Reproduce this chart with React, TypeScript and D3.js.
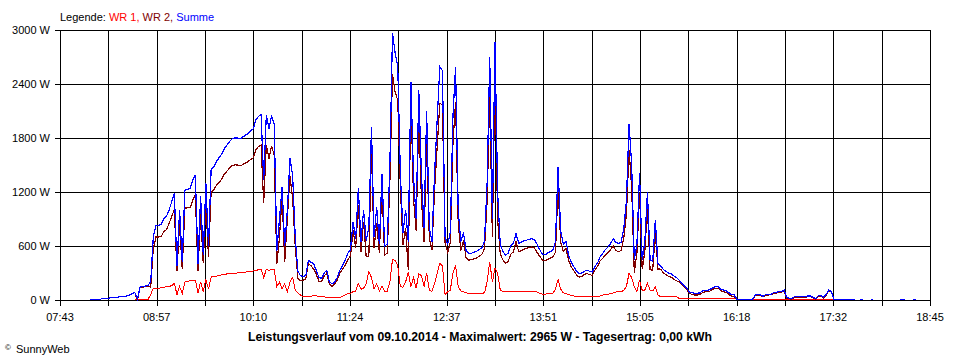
import React from 'react';
import * as d3 from 'd3';

// time axis (minutes since midnight)
const X_START = 463; // 07:43
const X_END = 1125; // 18:45
const X_TICK_LABELS = ['07:43', '08:57', '10:10', '11:24', '12:37', '13:51', '15:05', '16:18', '17:32', '18:45'];
const Y_TICKS = [0, 600, 1200, 1800, 2400, 3000];

// samples every 2 minutes starting 08:06
const START_MIN = 486;
const STEP_MIN = 2;

const SUMME: (number | null)[] = [
  7, 7, 7, 10, 10, 20, 20, 20, 25, 25,
  30, 35, 37, 37, 45, 56, 74, 80, 10, 150,
  150, 155, 165, 200, 700, 830, 830, 840, 900, 930,
  1000, 1090, 1190, 380, 1000, 420, 1220, 1230, 1240, 1330,
  1390, 400, 1150, 500, 1300, 600, 1450, 1480, 1540, 1580,
  1620, 1680, 1720, 1760, 1790, 1800, 1800, 1790, 1810, 1830,
  1850, 1880, 1900, 2000, 2040, 2060, 1330, 2060, 1900, 2050,
  1950, 550, 900, 1260, 600, 1000, 1574, 1389, 700, 320,
  270, 260, 270, 440, 420, 400, 330, 250, 240, 300,
  330, 200, 180, 200, 250, 330, 380, 440, 520, 560,
  870, 680, 1240, 650, 1000, 660, 800, 1926, 700, 1037,
  620, 1400, 600, 620, 1500, 2965, 2750, 2600, 1400, 750,
  1000, 650, 2426, 1370, 900, 2333, 1400, 800, 2100, 800,
  650, 1400, 2000, 2590, 2550, 700, 620, 750, 2037, 2593,
  1000, 650, 750, 550, 520, 520, 530, 540, 560, 580,
  650, 1300, 2700, 900, 2870, 1200, 620, 540, 500, 520,
  600, 630, 740, 630, 640, 660, 665, 675, 680, 670,
  620, 560, 510, 500, 520, 540, 550, 650, 1480, 760,
  620, 650, 500, 420, 370, 320, 290, 300, 320, 330,
  320, 310, 370, 410, 480, 520, 560, 590, 630, 680,
  640, 630, 640, 800, 1100, 1960, 1500, 450, 620, 1407,
  450, 650, 1200, 450, 430, 889, 400, 380, 340, 320,
  300, 290, 270, 250, 222, 190, 160, 130, 90, 80,
  74, 74, 80, 100, 110, 110, 120, 140, 150, 148,
  120, 110, 100, 80, 60, 56, 10, 7, 7, 7,
  7, 7, 7, 55, 60, 55, 40, 63, 63, 65,
  81, 85, 93, 93, 111, 26, 20, 18, 37, 37,
  40, 40, 37, 44, 44, 30, 15, 48, 48, 30,
  60, 111, 95, 7, 7, 7, 7, 7, 7, 7,
  7, 7, null, 7, 7, null, null, 7, 7, null,
  null, null, null, null, null, null, null, null, 7, 7,
  7, null, null, 7, 7,
];

const WR1: (number | null)[] = [
  null, null, null, null, null, null, null, null, null, null,
  null, null, null, null, null, null, null, 7, 7, 7,
  7, 7, 7, 60, 130, 130, 130, 135, 140, 148,
  150, 160, 185, 60, 150, 70, 200, 205, 215, 222,
  222, 80, 200, 90, 230, 120, 255, 260, 265, 275,
  278, 282, 290, 295, 296, 298, 300, 302, 305, 310,
  315, 318, 322, 330, 335, 340, 250, 340, 330, 340,
  340, 150, 200, 120, 180, 90, 200, 250, 110, 80,
  55, 40, 40, 35, 40, 55, 45, 40, 35, 35,
  30, 28, 26, 26, 26, 30, 40, 55, 70, 74,
  93, 100, 185, 120, 130, 180, 315, 250, 120, 180,
  100, 150, 100, 100, 200, 452, 440, 380, 150, 140,
  200, 315, 150, 250, 130, 290, 270, 150, 300, 110,
  93, 180, 300, 407, 380, 60, 90, 110, 300, 389,
  150, 100, 90, 80, 75, 74, 74, 74, 74, 74,
  80, 200, 426, 200, 352, 300, 110, 93, 93, 93,
  90, 95, 93, 90, 92, 95, 93, 90, 92, 93,
  90, 74, 65, 65, 70, 74, 74, 120, 230, 120,
  80, 74, 60, 50, 45, 40, 37, 37, 37, 37,
  37, 37, 37, 37, 45, 55, 60, 65, 70, 80,
  90, 93, 90, 110, 150, 296, 250, 148, 93, 222,
  110, 111, 185, 110, 100, 148, 55, 37, 37, 37,
  37, 37, 37, 37, 18, 18, 18, 18, 18, 18,
  18, 18, 18, 18, 18, 18, 18, 18, 18, 18,
  18, 18, 18, 18, 18, 18, 7, 7, 7, 7,
  7, 7, 7, 7, 7, 7, 7, 7, 7, 7,
  7, 7, 7, 7, 7, 7, 7, 7, 7, 7,
  7, 7, 7, 7, 7, 7, 7, 7, 7, 7,
  7, 7, 7, 7,
];

const WR2: (number | null)[] = [
  null, null, null, null, null, null, null, null, null, null,
  null, null, null, null, null, null, null, 70, 3, 143,
  143, 148, 158, 140, 570, 700, 700, 705, 760, 782,
  850, 930, 1005, 320, 850, 350, 1020, 1025, 1025, 1108,
  1168, 320, 950, 410, 1070, 480, 1195, 1220, 1275, 1305,
  1342, 1398, 1430, 1465, 1494, 1502, 1500, 1488, 1505, 1520,
  1535, 1562, 1578, 1670, 1705, 1720, 1080, 1720, 1570, 1710,
  1610, 400, 700, 1140, 420, 910, 1374, 1139, 590, 240,
  215, 220, 230, 405, 380, 345, 285, 210, 205, 265,
  300, 172, 154, 174, 224, 300, 340, 385, 450, 486,
  777, 580, 1055, 530, 870, 480, 485, 1676, 580, 857,
  520, 1250, 500, 520, 1300, 2513, 2310, 2220, 1250, 610,
  800, 335, 2276, 1120, 770, 2043, 1130, 650, 1800, 690,
  557, 1220, 1700, 2183, 2170, 640, 530, 640, 1737, 2204,
  850, 550, 660, 470, 445, 446, 456, 466, 486, 506,
  570, 1100, 2274, 700, 2518, 900, 510, 447, 407, 427,
  510, 535, 647, 540, 548, 565, 572, 585, 588, 577,
  530, 486, 445, 435, 450, 466, 476, 530, 1250, 640,
  540, 576, 440, 370, 325, 280, 253, 263, 283, 293,
  283, 273, 333, 373, 435, 465, 500, 525, 560, 600,
  550, 537, 550, 690, 950, 1664, 1250, 302, 527, 1185,
  340, 539, 1015, 340, 330, 741, 345, 343, 303, 283,
  263, 253, 233, 213, 204, 172, 142, 112, 72, 62,
  56, 56, 62, 82, 92, 92, 102, 122, 132, 130,
  102, 92, 82, 62, 42, 38, 5, 5, 5, 5,
  5, 5, 5, 48, 53, 48, 33, 56, 56, 58,
  74, 78, 86, 86, 104, 19, 13, 11, 30, 30,
  33, 33, 30, 37, 37, 23, 8, 41, 41, 23,
  53, 104, 88, 5,
];

const FONT = "'Liberation Sans', Arial, sans-serif";

export default function App() {
  const W = 960;
  const H = 360;
  const x = d3.scaleLinear().domain([X_START, X_END]).range([60, 930]);
  const y = d3.scaleLinear().domain([0, 3000]).range([300, 30]);
  const crisp = (v: number) => Math.round(v) + 0.5;

  const mkLine = (arr: (number | null)[]) =>
    d3
      .line<number | null>()
      .defined((d) => d != null)
      .x((_, i) => x(START_MIN + i * STEP_MIN))
      .y((d) => y(d as number))
      .curve(d3.curveLinear)(arr) || '';

  const nTicks = 18;
  const xTicks = d3.range(nTicks + 1).map((k) => X_START + (k * (X_END - X_START)) / nTicks);

  return (
    <svg
      width={W}
      height={H}
      style={{ position: 'absolute', left: 0, top: 0, background: '#fff', fontFamily: FONT }}
    >
      <rect x={0} y={0} width={W} height={H} fill="#fff" />
      {/* legend */}
      <text x={60} y={21} fontSize={11} fill="#000">
        <tspan>Legende: </tspan>
        <tspan fill="#ff0000">WR 1, </tspan>
        <tspan fill="#800000">WR 2, </tspan>
        <tspan fill="#0000ff">Summe</tspan>
      </text>
      {/* horizontal grid */}
      {Y_TICKS.map((v) => (
        <g key={'y' + v}>
          <line x1={55} x2={931} y1={crisp(y(v))} y2={crisp(y(v))} stroke="#000" strokeWidth={1} />
          <text x={50} y={y(v)} dy="0.35em" textAnchor="end" fontSize={11} fill="#000">
            {v} W
          </text>
        </g>
      ))}
      {/* vertical grid */}
      {xTicks.map((t, k) => (
        <g key={'x' + k}>
          <line x1={crisp(x(t))} x2={crisp(x(t))} y1={30} y2={306} stroke="#000" strokeWidth={1} />
          {k % 2 === 0 && (
            <text x={x(t)} y={321} textAnchor="middle" fontSize={11} fill="#000">
              {X_TICK_LABELS[k / 2]}
            </text>
          )}
        </g>
      ))}
      {/* series */}
      <path d={mkLine(WR1)} fill="none" stroke="#ff0000" strokeWidth={1} shapeRendering="crispEdges" />
      <path d={mkLine(WR2)} fill="none" stroke="#800000" strokeWidth={1.2} shapeRendering="crispEdges" />
      <path d={mkLine(SUMME)} fill="none" stroke="#0000ff" strokeWidth={1.2} shapeRendering="crispEdges" />
      {/* title */}
      <text
        x={480}
        y={341}
        textAnchor="middle"
        fontSize={12}
        fontWeight="bold"
        fill="#000"
        textLength={464}
        lengthAdjust="spacingAndGlyphs"
      >
        Leistungsverlauf vom 09.10.2014 - Maximalwert: 2965 W - Tagesertrag: 0,00 kWh
      </text>
      <text x={5} y={350} fontSize={8} fill="#000">©</text>
      <text x={16} y={353} fontSize={11} fill="#000">SunnyWeb</text>
    </svg>
  );
}
